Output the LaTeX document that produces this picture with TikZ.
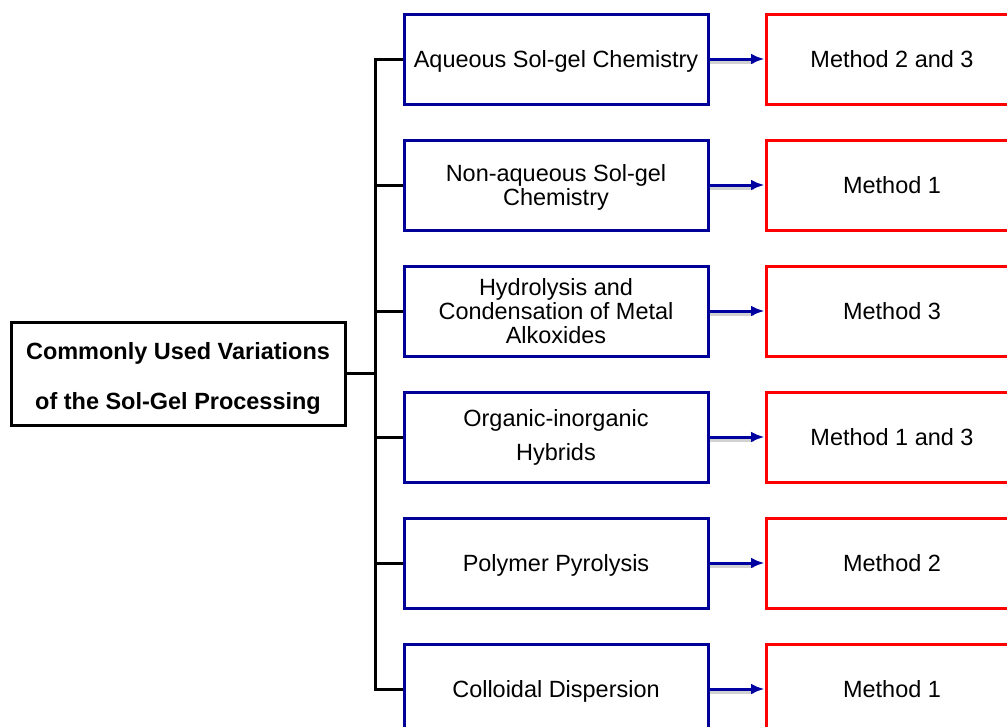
\documentclass[tikz,border=0pt]{standalone}
\usepackage{fontspec}
\setmainfont{Liberation Sans}
\usetikzlibrary{arrows.meta}

\definecolor{boxblue}{RGB}{0,0,153}
\definecolor{arrowblue}{RGB}{0,0,160}
\definecolor{boxred}{RGB}{255,0,0}

\newcommand{\nodepth}[1]{\raisebox{0pt}[\height][0pt]{#1}}

\tikzset{every picture/.style={line width=2.25pt}}
\tikzset{
variation/.style={draw=boxblue, minimum width=228pt, minimum height=67.5pt,
    inner sep=0pt, align=center, font=\fontsize{17.6}{18}\selectfont},
method/.style={draw=boxred, minimum width=189pt, minimum height=67.5pt,
    inner sep=0pt, align=center, font=\fontsize{17.6}{18}\selectfont},
rootbox/.style={draw=black, minimum width=250.5pt, minimum height=77.25pt,
    inner sep=0pt, align=center, font=\fontsize{17.6}{18}\selectfont\bfseries},
link/.style={arrowblue, line width=2.25pt, -{Latex[length=10pt,width=8pt]}},
linkshadow/.style={black!18, line width=2.5pt}
}

\begin{document}
\begin{tikzpicture}[x=0.75pt,y=0.75pt,yscale=-1,xscale=1]

\useasboundingbox (0,0) rectangle (1007,726);

% ROOT

\node [rootbox] (root) at (178,373.5) {\rule{0pt}{20.4pt}Commonly Used Variations\\[19.5pt] of the Sol-Gel Processing};

% VARIATIONS

\node [variation] (v1) at (556,59) {\nodepth{Aqueous Sol-gel Chemistry}};
\node [variation] (v2) at (556,185) {Non-aqueous Sol-gel\\\nodepth{Chemistry}};
\node [variation] (v3) at (556,311) {Hydrolysis and\\Condensation of Metal\\Alkoxides};
\node [variation] (v4) at (556,437) {Organic-inorganic\\[7.5pt] Hybrids};
\node [variation] (v5) at (556,563) {\nodepth{Polymer Pyrolysis}};
\node [variation] (v6) at (556,689) {\nodepth{Colloidal Dispersion}};

% METHODS

\node [method] (m1) at (892,59) {Method 2 and 3};
\node [method] (m2) at (892,185) {Method 1};
\node [method] (m3) at (892,311) {Method 3};
\node [method] (m4) at (892,437) {Method 1 and 3};
\node [method] (m5) at (892,563) {Method 2};
\node [method] (m6) at (892,689) {Method 1};

% TREE

\coordinate (trunk) at (375,373.5);

\draw (root.east) -- (trunk);
\draw [line cap=rect] (trunk |- v1.west) -- (trunk |- v6.west);
\foreach \i in {1,...,6}{
    \draw (trunk |- v\i.west) -- (v\i.west);
}

% ARROWS

\foreach \i in {1,...,6}{
    \draw [linkshadow] ([yshift=2.5]v\i.east) -- ([xshift=-8,yshift=2.5]m\i.west);
    \draw [link] (v\i.east) -- (m\i.west);
}

\end{tikzpicture}
\end{document}
